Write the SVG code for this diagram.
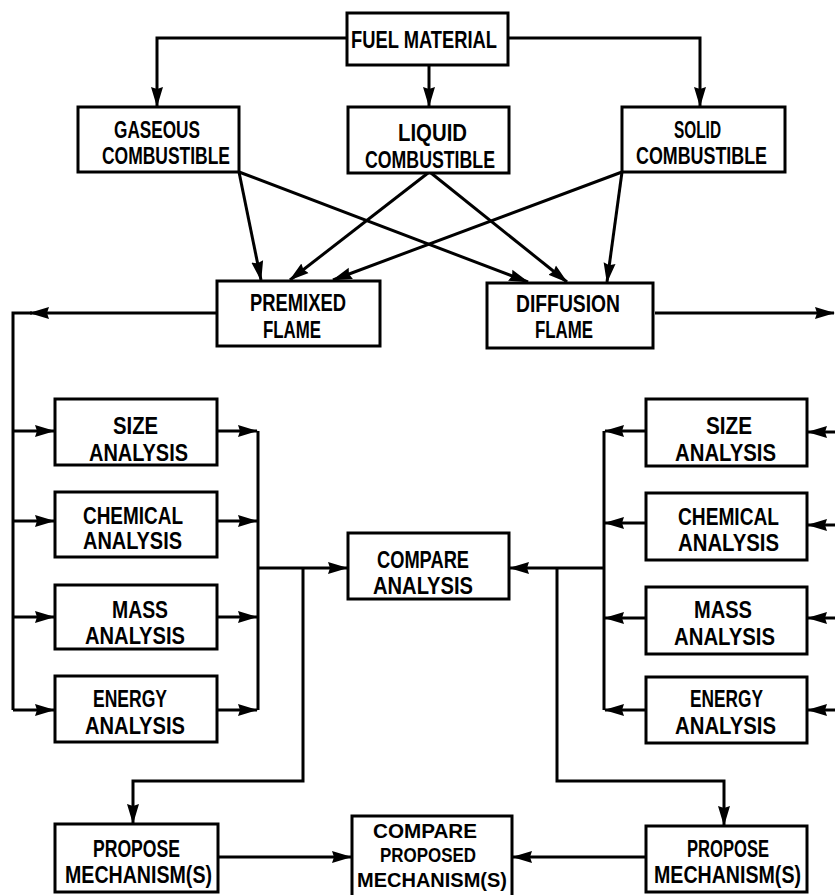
<svg xmlns="http://www.w3.org/2000/svg" width="835" height="895" viewBox="0 0 835 895">
<style>
.box{fill:#fff;stroke:#000;stroke-width:3}
.t{font-family:"Liberation Sans","DejaVu Sans",sans-serif;font-weight:bold;font-size:24px;fill:#000}
.s{font-size:21px}
.c{fill:none;stroke:#000;stroke-width:3;stroke-linejoin:miter}
.a{marker-end:url(#ah)}
</style>
<defs>
<marker id="ah" markerUnits="userSpaceOnUse" markerWidth="22" markerHeight="14" refX="19" refY="7" orient="auto">
<path d="M0,1 L20,7 L0,13 L2,7 Z" fill="#000"/>
</marker>
</defs>
<rect width="835" height="895" fill="#fff"/>
<g id="connectors">
<path class="c a" d="M347,38 H157 V106"/>
<path class="c a" d="M429,65 V106"/>
<path class="c a" d="M508,38 H700 V106"/>
<path class="c a" d="M239,172 L261,280"/>
<path class="c a" d="M239,172 L528,282"/>
<path class="c a" d="M428,173 L290,280"/>
<path class="c a" d="M431,173 L567,282"/>
<path class="c a" d="M622,172 L333,280"/>
<path class="c a" d="M622,172 L607,282"/>
<path class="c a" d="M217,313 H30"/>
<path class="c" d="M32,313 H13 V710"/>
<path class="c a" d="M13,431 H54"/>
<path class="c a" d="M13,521 H54"/>
<path class="c a" d="M13,617 H54"/>
<path class="c a" d="M13,710 H54"/>
<path class="c a" d="M217,431 H257"/>
<path class="c a" d="M217,521 H257"/>
<path class="c a" d="M217,617 H257"/>
<path class="c a" d="M217,710 H257"/>
<path class="c" d="M258,431 V710"/>
<path class="c a" d="M258,568 H347"/>
<path class="c a" d="M303,568 V781 H133 V823"/>
<path class="c a" d="M655,313 H834"/>
<path class="c a" d="M835,432 H808"/>
<path class="c a" d="M835,525 H808"/>
<path class="c a" d="M835,618 H808"/>
<path class="c a" d="M835,710 H808"/>
<path class="c a" d="M646,431 H605"/>
<path class="c a" d="M646,523 H605"/>
<path class="c a" d="M646,618 H605"/>
<path class="c a" d="M646,710 H605"/>
<path class="c" d="M604,431 V710"/>
<path class="c a" d="M604,568 H510"/>
<path class="c a" d="M557,568 V781 H724 V825"/>
<path class="c a" d="M218,857 H351"/>
<path class="c a" d="M646,857 H513"/>
</g>
<g id="fuel-material">
<rect class="box" x="347" y="13" width="161" height="52"/>
<text class="t" x="351" y="48" textLength="146" lengthAdjust="spacingAndGlyphs">FUEL MATERIAL</text>
</g>
<g id="gaseous">
<rect class="box" x="78" y="107" width="161" height="65"/>
<text class="t" x="114" y="138" textLength="86" lengthAdjust="spacingAndGlyphs">GASEOUS</text>
<text class="t" x="102" y="164" textLength="128" lengthAdjust="spacingAndGlyphs">COMBUSTIBLE</text>
</g>
<g id="liquid">
<rect class="box" x="348" y="107" width="161" height="66"/>
<text class="t" x="398" y="141" textLength="69" lengthAdjust="spacingAndGlyphs">LIQUID</text>
<text class="t" x="365" y="168" textLength="130" lengthAdjust="spacingAndGlyphs">COMBUSTIBLE</text>
</g>
<g id="solid">
<rect class="box" x="622" y="107" width="163" height="65"/>
<text class="t" x="674" y="138" textLength="47" lengthAdjust="spacingAndGlyphs">SOLID</text>
<text class="t" x="636" y="164" textLength="131" lengthAdjust="spacingAndGlyphs">COMBUSTIBLE</text>
</g>
<g id="premixed">
<rect class="box" x="217" y="281" width="163" height="65"/>
<text class="t" x="250" y="311" textLength="96" lengthAdjust="spacingAndGlyphs">PREMIXED</text>
<text class="t" x="263" y="338" textLength="58" lengthAdjust="spacingAndGlyphs">FLAME</text>
</g>
<g id="diffusion">
<rect class="box" x="487" y="283" width="166" height="65"/>
<text class="t" x="516" y="312" textLength="104" lengthAdjust="spacingAndGlyphs">DIFFUSION</text>
<text class="t" x="535" y="338" textLength="58" lengthAdjust="spacingAndGlyphs">FLAME</text>
</g>
<g id="size-left">
<rect class="box" x="55" y="399" width="162" height="66"/>
<text class="t" x="113" y="434" textLength="45" lengthAdjust="spacingAndGlyphs">SIZE</text>
<text class="t" x="89" y="461" textLength="99" lengthAdjust="spacingAndGlyphs">ANALYSIS</text>
</g>
<g id="chemical-left">
<rect class="box" x="55" y="492" width="162" height="65"/>
<text class="t" x="83" y="524" textLength="100" lengthAdjust="spacingAndGlyphs">CHEMICAL</text>
<text class="t" x="83" y="549" textLength="99" lengthAdjust="spacingAndGlyphs">ANALYSIS</text>
</g>
<g id="mass-left">
<rect class="box" x="55" y="585" width="162" height="64"/>
<text class="t" x="112" y="618" textLength="56" lengthAdjust="spacingAndGlyphs">MASS</text>
<text class="t" x="85" y="644" textLength="100" lengthAdjust="spacingAndGlyphs">ANALYSIS</text>
</g>
<g id="energy-left">
<rect class="box" x="55" y="676" width="162" height="66"/>
<text class="t" x="93" y="707" textLength="74" lengthAdjust="spacingAndGlyphs">ENERGY</text>
<text class="t" x="85" y="734" textLength="100" lengthAdjust="spacingAndGlyphs">ANALYSIS</text>
</g>
<g id="compare-analysis">
<rect class="box" x="348" y="533" width="161" height="66"/>
<text class="t" x="377" y="568" textLength="92" lengthAdjust="spacingAndGlyphs">COMPARE</text>
<text class="t" x="373" y="594" textLength="100" lengthAdjust="spacingAndGlyphs">ANALYSIS</text>
</g>
<g id="size-right">
<rect class="box" x="646" y="399" width="161" height="67"/>
<text class="t" x="706" y="434" textLength="46" lengthAdjust="spacingAndGlyphs">SIZE</text>
<text class="t" x="675" y="461" textLength="101" lengthAdjust="spacingAndGlyphs">ANALYSIS</text>
</g>
<g id="chemical-right">
<rect class="box" x="646" y="493" width="161" height="67"/>
<text class="t" x="678" y="525" textLength="101" lengthAdjust="spacingAndGlyphs">CHEMICAL</text>
<text class="t" x="678" y="551" textLength="101" lengthAdjust="spacingAndGlyphs">ANALYSIS</text>
</g>
<g id="mass-right">
<rect class="box" x="646" y="587" width="161" height="67"/>
<text class="t" x="694" y="618" textLength="58" lengthAdjust="spacingAndGlyphs">MASS</text>
<text class="t" x="674" y="645" textLength="101" lengthAdjust="spacingAndGlyphs">ANALYSIS</text>
</g>
<g id="energy-right">
<rect class="box" x="646" y="677" width="161" height="66"/>
<text class="t" x="690" y="707" textLength="73" lengthAdjust="spacingAndGlyphs">ENERGY</text>
<text class="t" x="675" y="734" textLength="101" lengthAdjust="spacingAndGlyphs">ANALYSIS</text>
</g>
<g id="propose-left">
<rect class="box" x="55" y="824" width="163" height="68"/>
<text class="t" x="93" y="857" textLength="87" lengthAdjust="spacingAndGlyphs">PROPOSE</text>
<text class="t" x="65" y="883" textLength="147" lengthAdjust="spacingAndGlyphs">MECHANISM(S)</text>
</g>
<g id="compare-proposed">
<rect class="box" x="352" y="816" width="160" height="82"/>
<text class="t s" x="373" y="838" textLength="104" lengthAdjust="spacingAndGlyphs">COMPARE</text>
<text class="t s" x="380" y="862" textLength="96" lengthAdjust="spacingAndGlyphs">PROPOSED</text>
<text class="t s" x="357" y="887" textLength="150" lengthAdjust="spacingAndGlyphs">MECHANISM(S)</text>
</g>
<g id="propose-right">
<rect class="box" x="646" y="826" width="161" height="66"/>
<text class="t" x="687" y="857" textLength="82" lengthAdjust="spacingAndGlyphs">PROPOSE</text>
<text class="t" x="654" y="883" textLength="147" lengthAdjust="spacingAndGlyphs">MECHANISM(S)</text>
</g>
</svg>
